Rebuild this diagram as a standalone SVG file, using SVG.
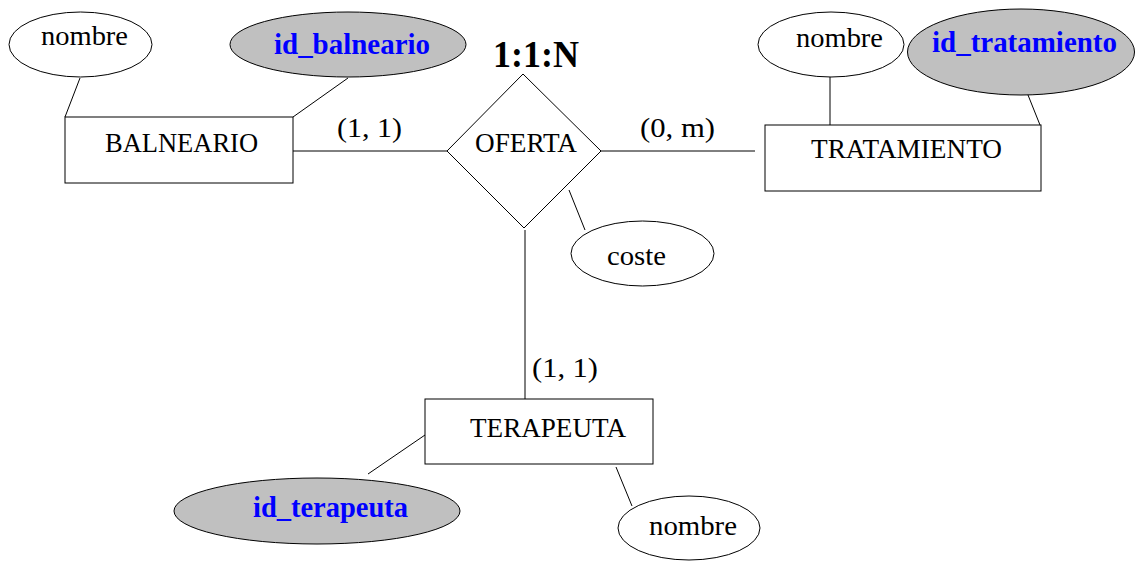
<svg xmlns="http://www.w3.org/2000/svg" width="1135" height="561" viewBox="0 0 1135 561">
<style>
.bg{fill:#ffffff}
.ent{fill:#ffffff;stroke:#000000;stroke-width:1}
.attr{fill:#ffffff;stroke:#000000;stroke-width:1}
.key{fill:#c0c0c0;stroke:#000000;stroke-width:1}
.rel{fill:#ffffff;stroke:#000000;stroke-width:1}
.ln{stroke:#000000;stroke-width:1;fill:none}
.t{font-family:"Liberation Serif","Times New Roman",serif;font-size:28px;fill:#000000}
.k{font-family:"Liberation Serif","Times New Roman",serif;font-size:30px;font-weight:bold;fill:#0000ff}
.card{font-family:"Liberation Serif","Times New Roman",serif;font-size:37px;font-weight:bold;fill:#000000}
</style>
<rect class="bg" x="0" y="0" width="1135" height="561"/>
<g id="connectors">
<line class="ln" x1="80" y1="78" x2="65" y2="117"/>
<line class="ln" x1="348" y1="78" x2="293" y2="117"/>
<line class="ln" x1="293" y1="151" x2="447" y2="151"/>
<line class="ln" x1="601" y1="151" x2="755" y2="151"/>
<line class="ln" x1="830" y1="77" x2="830" y2="125"/>
<line class="ln" x1="1024" y1="85" x2="1040" y2="125"/>
<line class="ln" x1="569" y1="190" x2="585" y2="230"/>
<line class="ln" x1="525" y1="230" x2="525" y2="399"/>
<line class="ln" x1="368" y1="474" x2="425" y2="435"/>
<line class="ln" x1="616" y1="467" x2="632" y2="506"/>
<text class="t" x="337" y="137" textLength="65" lengthAdjust="spacingAndGlyphs">(1, 1)</text>
<text class="t" x="640" y="137" textLength="75" lengthAdjust="spacingAndGlyphs">(0, m)</text>
<text class="t" x="532" y="377" textLength="66" lengthAdjust="spacingAndGlyphs">(1, 1)</text>
</g>
<g id="balneario">
<rect class="ent" x="65" y="117" width="228" height="66"/>
<text class="t" x="105" y="152" textLength="153" lengthAdjust="spacingAndGlyphs">BALNEARIO</text>
</g>
<g id="balneario_nombre">
<ellipse class="attr" cx="80.5" cy="44.5" rx="71.5" ry="32.5"/>
<text class="t" x="41" y="45" textLength="87" lengthAdjust="spacingAndGlyphs">nombre</text>
</g>
<g id="id_balneario">
<ellipse class="key" cx="348" cy="44.5" rx="118" ry="32.5"/>
<text class="k" x="274" y="54" textLength="156" lengthAdjust="spacingAndGlyphs">id_balneario</text>
</g>
<g id="oferta">
<polygon class="rel" points="523,74 601,151 524,228 447,151"/>
<text class="t" x="475" y="152" textLength="102" lengthAdjust="spacingAndGlyphs">OFERTA</text>
<text class="card" x="493" y="67" textLength="86" lengthAdjust="spacingAndGlyphs">1:1:N</text>
</g>
<g id="coste">
<ellipse class="attr" cx="642.5" cy="253.5" rx="71.5" ry="32.5"/>
<text class="t" x="607" y="265" textLength="59" lengthAdjust="spacingAndGlyphs">coste</text>
</g>
<g id="tratamiento">
<rect class="ent" x="765" y="125" width="276" height="66"/>
<text class="t" x="811" y="158" textLength="191" lengthAdjust="spacingAndGlyphs">TRATAMIENTO</text>
</g>
<g id="tratamiento_nombre">
<ellipse class="attr" cx="831" cy="44.5" rx="73" ry="32.5"/>
<text class="t" x="796" y="47" textLength="87" lengthAdjust="spacingAndGlyphs">nombre</text>
</g>
<g id="id_tratamiento">
<ellipse class="key" cx="1021" cy="52" rx="113.5" ry="43"/>
<text class="k" x="932" y="52" textLength="185" lengthAdjust="spacingAndGlyphs">id_tratamiento</text>
</g>
<g id="terapeuta">
<rect class="ent" x="425" y="399" width="228" height="65"/>
<text class="t" x="470" y="437" textLength="156" lengthAdjust="spacingAndGlyphs">TERAPEUTA</text>
</g>
<g id="id_terapeuta">
<ellipse class="key" cx="317" cy="511" rx="143" ry="33"/>
<text class="k" x="253" y="517" textLength="155" lengthAdjust="spacingAndGlyphs">id_terapeuta</text>
</g>
<g id="terapeuta_nombre">
<ellipse class="attr" cx="689" cy="528" rx="71" ry="32"/>
<text class="t" x="649" y="535" textLength="88" lengthAdjust="spacingAndGlyphs">nombre</text>
</g>
</svg>
